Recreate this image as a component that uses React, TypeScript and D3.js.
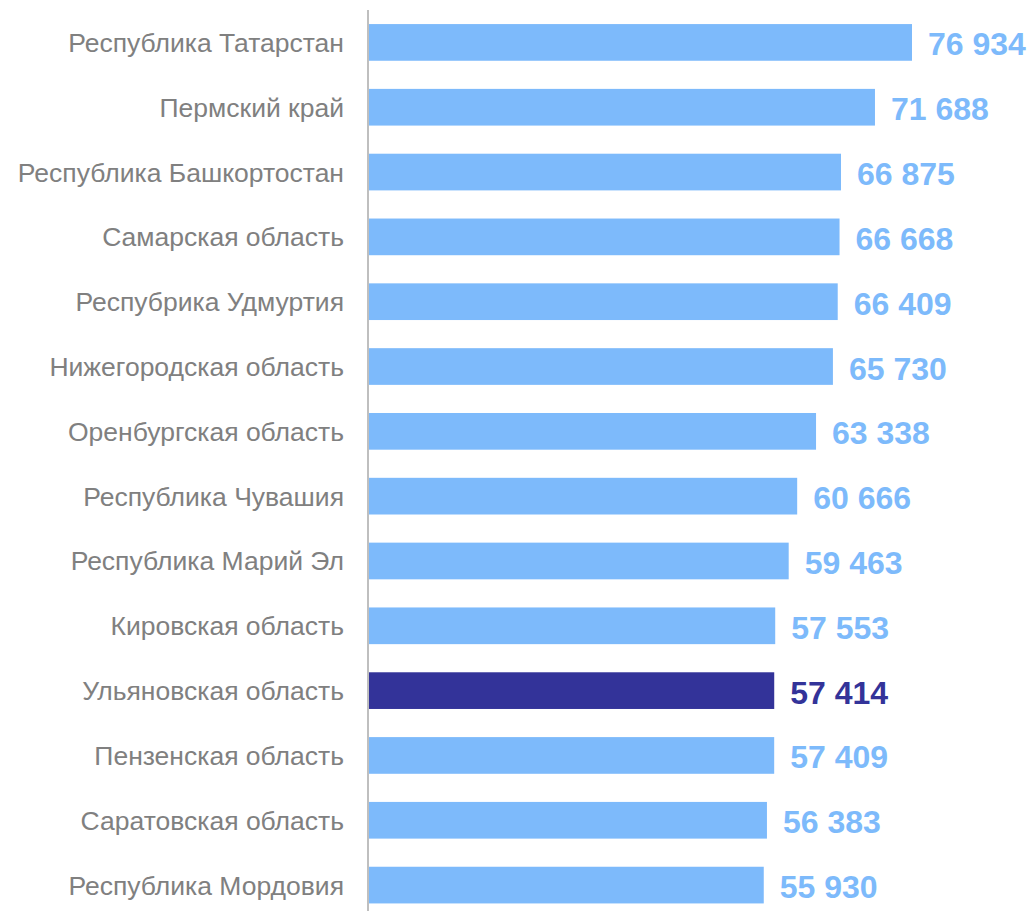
import React from "react";
import * as d3 from "d3";

const regions = [
  "Республика Татарстан",
  "Пермский край",
  "Республика Башкортостан",
  "Самарская область",
  "Респубрика Удмуртия",
  "Нижегородская область",
  "Оренбургская область",
  "Республика Чувашия",
  "Республика Марий Эл",
  "Кировская область",
  "Ульяновская область",
  "Пензенская область",
  "Саратовская область",
  "Республика Мордовия",
];

const salaries = [
  76934, 71688, 66875, 66668, 66409, 65730, 63338, 60666, 59463, 57553, 57414,
  57409, 56383, 55930,
];

const highlighted = ["Ульяновская область"];

const width = 1031;
const height = 911;
const barColor = "#7DBAFB";
const highlightColor = "#333399";
const labelColor = "#808080";

const fmt = (v: number) => d3.format(",")(v).replace(/,/g, " ");

const App = () => {
  const x = d3
    .scaleLinear()
    .domain([0, d3.max(salaries) as number])
    .range([369, 912]);

  const y = d3
    .scaleBand<string>()
    .domain(regions)
    .range([10, 917.5])
    .paddingInner(0.434)
    .paddingOuter(0.217);

  const bw = y.bandwidth();

  return (
    <svg
      width={width}
      height={height}
      style={{ position: "absolute", left: 0, top: 0, fontFamily: "'Liberation Sans', Arial, sans-serif" }}
    >
      {regions.map((name, i) => {
        const top = y(name) as number;
        const cy = top + bw / 2;
        const isHi = highlighted.includes(name);
        const color = isHi ? highlightColor : barColor;
        return (
          <g key={name}>
            <rect x={x(0)} y={top} width={x(salaries[i]) - x(0)} height={bw} fill={color} />
            <text x={344} y={cy + 9.5} textAnchor="end" fontSize={26.5} fill={labelColor}>
              {name}
            </text>
            <text x={x(salaries[i]) + 16} y={cy + 13} fontSize={32} fontWeight="bold" fill={color}>
              {fmt(salaries[i])}
            </text>
          </g>
        );
      })}
      {/* vertical axis line */}
      <line x1={368} x2={368} y1={10} y2={height} stroke="#BFBFBF" strokeWidth={2} />
    </svg>
  );
};

export default App;
